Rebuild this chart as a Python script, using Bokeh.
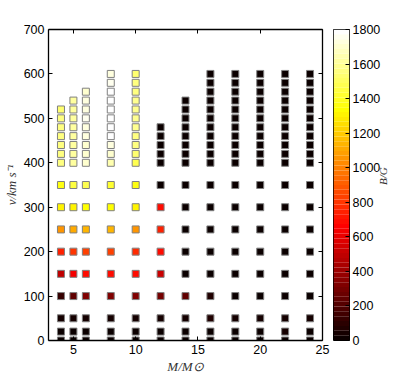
import math
from bokeh.plotting import figure
from bokeh.layouts import row
from bokeh.models import (LinearAxis, LinearColorMapper, FixedTicker,
                          ColumnDataSource)
from bokeh.embed import file_html
from bokeh.resources import INLINE

# ---- data ----
masses = [4, 5, 6, 8, 10, 12, 14, 16, 18, 20, 22, 24]
v_levels = [0, 20, 50, 100, 150, 200, 250, 300, 350,
            400, 420, 440, 460, 480, 500, 520, 540, 560, 580, 600]

B_M4 = [0, 10, 30, 130, 505, 755, 1045, 1315, 1370,
        1560, 1560, 1560, 1560, 1560, 1560, 1530]
B_M5 = [0, 10, 30, 235, 635, 800, 1120, 1316, 1460,
        1620, 1620, 1630, 1630, 1630, 1630, 1630, 1620]
B_M6 = [0, 10, 30, 315, 690, 840, 1140, 1330, 1480,
        1690, 1700, 1710, 1720, 1740, 1760, 1740, 1720, 1700]
B_M8 = [0, 20, 50, 315, 690, 830, 1140, 1340, 1420,
        1640, 1700, 1740, 1780, 1800, 1800, 1790, 1800, 1790, 1750, 1730]
B_M10 = [0, 20, 50, 320, 675, 780, 1053, 1320, 1350,
         1480, 1540, 1560, 1570, 1580, 1580, 1580, 1580, 1570, 1560, 1530]
B_M12 = [0, 20, 50, 300, 530, 700, 755, 690, 10,
         0, 0, 0, 0, 0]
B_M14 = [0, 20, 50, 235, 20, 10, 10, 10, 10,
         0, 0, 0, 0, 0, 0, 0, 0]
B_M16 = [0, 20, 60, 70, 10, 10, 10, 10, 10,
         0, 0, 0, 0, 0, 0, 0, 0, 0, 0, 0]
B_M18 = [0, 20, 30, 15, 10, 10, 10, 10, 10,
         0, 0, 0, 0, 0, 0, 0, 0, 0, 0, 0]
B_M20 = [0, 25, 30, 15, 10, 10, 10, 10, 10,
         0, 0, 0, 0, 0, 0, 0, 0, 0, 0, 0]
B_M22 = [0, 40, 30, 15, 10, 10, 10, 10, 10,
         0, 0, 0, 0, 0, 0, 0, 0, 0, 0, 0]
B_M24 = [0, 20, 30, 15, 10, 10, 10, 10, 10,
         0, 0, 0, 0, 0, 0, 0, 0, 0, 0, 0]
B_columns = [B_M4, B_M5, B_M6, B_M8, B_M10, B_M12, B_M14,
             B_M16, B_M18, B_M20, B_M22, B_M24]

x_ticks = [5, 10, 15, 20, 25]
y_ticks = [0, 100, 200, 300, 400, 500, 600, 700]
cb_ticks = [0, 200, 400, 600, 800, 1000, 1200, 1400, 1600, 1800]
B_min, B_max = 0, 1800

# ---- table ----
xs, ys, bs = [], [], []
for m, col in zip(masses, B_columns):
    for v, b in zip(v_levels, col):
        xs.append(m); ys.append(v); bs.append(b)
src = ColumnDataSource(dict(M=xs, v=ys, B=bs))

# matlab "hot" colormap, 64 levels
def hot(n=64):
    n1 = int(3 * n / 8)
    out = []
    for i in range(n):
        r = min(1.0, (i + 1) / n1)
        g = min(1.0, max(0.0, (i + 1 - n1) / n1))
        b = min(1.0, max(0.0, (i + 1 - 2 * n1) / (n - 2 * n1)))
        out.append("#%02x%02x%02x" % (round(r * 255), round(g * 255), round(b * 255)))
    return out

palette = hot(64)
mapper = LinearColorMapper(palette=palette, low=B_min, high=B_max)

TICK_FONT = "Liberation Sans"
LABEL_FONT = "Liberation Serif"

# ---- main scatter ----
p = figure(frame_width=274, frame_height=311, x_range=(3, 25), y_range=(0, 700),
           output_backend="svg", toolbar_location=None,
           min_border_left=45, min_border_top=29, min_border_bottom=30,
           min_border_right=11)
p.xgrid.visible = False
p.ygrid.visible = False
p.outline_line_color = None

bottom = p.below[0]
left = p.left[0]
bottom.ticker = FixedTicker(ticks=x_ticks)
left.ticker = FixedTicker(ticks=y_ticks)

p.scatter(x="M", y="v", source=src, marker="square", size=7,
          fill_color={"field": "B", "transform": mapper},
          line_color="#808080", line_width=1)

top = LinearAxis(ticker=FixedTicker(ticks=x_ticks))
right = LinearAxis(ticker=FixedTicker(ticks=y_ticks))
p.add_layout(top, "above")
p.add_layout(right, "right")

for ax in [bottom, left, top, right]:
    ax.major_tick_in = 4
    ax.major_tick_out = 0
    ax.minor_tick_line_color = None
    ax.axis_line_width = 1.3
    ax.axis_line_color = "black"
    ax.major_tick_line_color = "black"
    ax.major_label_text_font = TICK_FONT
    ax.major_label_text_font_size = "12.5px"
    ax.major_label_text_color = "black"
    ax.major_label_standoff = 4

for ax in [top, right]:
    ax.major_label_text_font_size = "0px"
    ax.major_label_text_color = None
    ax.major_label_standoff = 0

bottom.axis_label = "M/M\u2299"
left.axis_label = "v/km s\u207b\u00b9"
for ax in [bottom, left]:
    ax.axis_label_text_font = LABEL_FONT
    ax.axis_label_text_font_style = "italic"
    ax.axis_label_text_font_size = "13px"
    ax.axis_label_text_color = "#333333"
    ax.axis_label_standoff = 2

# ---- colour bar as its own narrow figure ----
n = len(palette)
step = (B_max - B_min) / n
cb_src = ColumnDataSource(dict(
    bottom=[B_min + i * step for i in range(n)],
    top=[B_min + (i + 1) * step for i in range(n)],
    color=palette))

c = figure(frame_width=16, frame_height=311, x_range=(0, 1), y_range=(B_min, B_max),
           output_backend="svg", toolbar_location=None,
           x_axis_location=None, y_axis_location="right",
           min_border_left=0, min_border_top=29, min_border_bottom=30,
           min_border_right=20)
c.xgrid.visible = False
c.ygrid.visible = False
c.outline_line_color = "black"
c.outline_line_width = 1
c.quad(left=0, right=1, bottom="bottom", top="top", color="color",
       line_color=None, source=cb_src)

cax = c.right[0]
cax.ticker = FixedTicker(ticks=cb_ticks)
cax.axis_line_color = None
cax.major_tick_in = 4
cax.major_tick_out = 0
cax.minor_tick_line_color = None
cax.major_tick_line_color = "black"
cax.major_label_standoff = 3
cax.major_label_text_font = TICK_FONT
cax.major_label_text_font_size = "12.5px"
cax.major_label_text_color = "black"
cax.axis_label = "B/G"
cax.axis_label_standoff = 0
cax.axis_label_text_font = LABEL_FONT
cax.axis_label_text_font_style = "italic"
cax.axis_label_text_font_size = "11px"
cax.axis_label_text_color = "#333333"
try:
    cax.axis_label_orientation = math.pi / 2
except Exception:
    pass

layout = row(p, c)
open("out.html", "w").write(file_html(layout, INLINE))
